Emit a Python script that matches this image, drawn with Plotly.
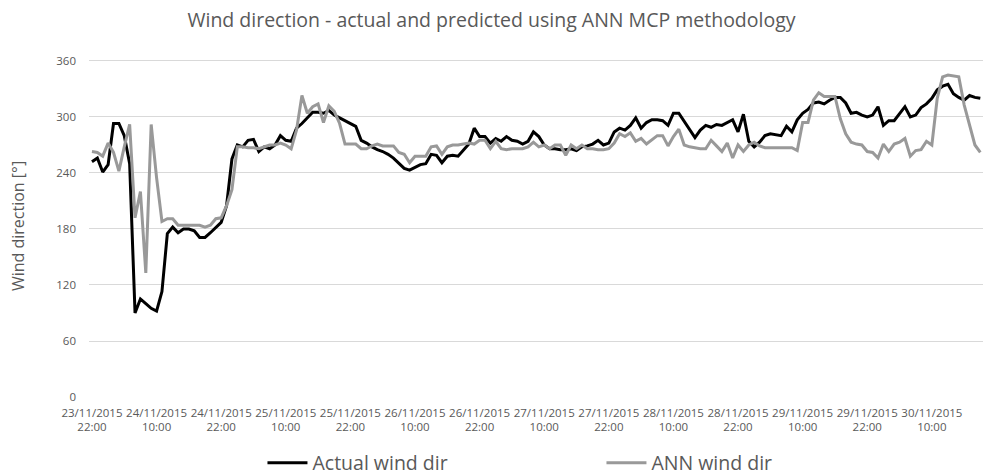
import plotly.graph_objects as go
import pandas as pd

# ---- data (hourly, starting 23/11/2015 22:00) ----
actual_wind_dir = [
    252, 256, 241, 249, 293, 293, 280, 250, 90, 105,
    100, 95, 92, 113, 175, 182, 176, 180, 180, 178,
    171, 171, 176, 182, 187, 205, 255, 270, 268, 275,
    276, 263, 268, 266, 270, 280, 275, 274, 288, 293,
    299, 305, 305, 304, 307, 302, 299, 296, 293, 290,
    275, 272, 268, 265, 263, 260, 256, 250, 245, 243,
    246, 249, 250, 260, 259, 251, 258, 259, 258, 265,
    271, 288, 279, 279, 272, 277, 274, 279, 275, 274,
    271, 274, 284, 279, 270, 266, 266, 265, 265, 266,
    264, 268, 269, 271, 275, 270, 272, 284, 288, 286,
    291, 299, 288, 294, 297, 297, 296, 291, 304, 304,
    295, 286, 278, 286, 291, 289, 292, 291, 294, 297,
    284, 303, 274, 268, 273, 280, 282, 281, 280, 290,
    284, 297, 304, 308, 315, 316, 314, 318, 321, 321,
    315, 304, 305, 302, 300, 302, 311, 291, 296, 296,
    304, 311, 300, 302, 310, 314, 320, 329, 333, 335,
    325, 321, 318, 323, 321, 320,
]
ann_wind_dir = [
    263, 262, 258, 272, 262, 242, 268, 292, 192, 220,
    133, 292, 235, 188, 191, 191, 184, 184, 184, 184,
    184, 182, 184, 191, 192, 205, 222, 268, 268, 267,
    267, 266, 268, 270, 270, 272, 270, 266, 286, 323,
    304, 311, 314, 294, 312, 306, 293, 271, 271, 271,
    266, 266, 269, 271, 269, 269, 269, 262, 260, 251,
    258, 258, 258, 268, 269, 260, 268, 270, 270, 271,
    272, 271, 275, 275, 266, 274, 266, 265, 266, 266,
    266, 268, 273, 268, 270, 266, 270, 270, 259, 270,
    266, 270, 266, 266, 265, 265, 266, 272, 282, 279,
    283, 274, 277, 271, 276, 280, 280, 269, 279, 287,
    270, 268, 267, 266, 266, 275, 269, 263, 272, 256,
    270, 263, 270, 273, 269, 267, 267, 267, 267, 267,
    267, 264, 294, 294, 318, 326, 322, 322, 322, 298,
    282, 273, 271, 270, 263, 262, 256, 271, 263, 271,
    273, 277, 258, 264, 265, 274, 270, 320, 343, 345,
    344, 343, 313, 291, 270, 262,
]
tick_labels = [
    "23/11/2015<br>22:00", "24/11/2015<br>10:00", "24/11/2015<br>22:00",
    "25/11/2015<br>10:00", "25/11/2015<br>22:00", "26/11/2015<br>10:00",
    "26/11/2015<br>22:00", "27/11/2015<br>10:00", "27/11/2015<br>22:00",
    "28/11/2015<br>10:00", "28/11/2015<br>22:00", "29/11/2015<br>10:00",
    "29/11/2015<br>22:00", "30/11/2015<br>10:00",
]
y_ticks = [0, 60, 120, 180, 240, 300, 360]

times = pd.date_range("2015-11-23 22:00", periods=len(actual_wind_dir), freq="h")
x = list(range(len(times)))
tick_positions = list(range(0, 12 * len(tick_labels), 12))

FONT = "Open Sans"
TXT = "#595959"

fig = go.Figure()
fig.add_trace(go.Scatter(
    x=x, y=actual_wind_dir, mode="lines", name="Actual wind dir",
    line=dict(color="#000000", width=3),
    customdata=[t.strftime("%d/%m/%Y %H:%M") for t in times],
))
fig.add_trace(go.Scatter(
    x=x, y=ann_wind_dir, mode="lines", name="ANN wind dir",
    line=dict(color="#999999", width=3),
    customdata=[t.strftime("%d/%m/%Y %H:%M") for t in times],
))

fig.update_layout(
    width=983, height=476,
    margin=dict(l=89, r=0, t=55, b=79, autoexpand=False),
    paper_bgcolor="white", plot_bgcolor="white",
    font=dict(family=FONT, color=TXT),
    title=dict(
        text="Wind direction - actual and predicted using ANN MCP methodology",
        x=0.5, xref="container", xanchor="center",
        y=0.958, yref="container", yanchor="middle",
        font=dict(family=FONT, size=19.5, color=TXT),
    ),
    showlegend=True,
    legend=dict(
        orientation="h", xref="container", yref="container",
        x=0.267, xanchor="left", y=0.027, yanchor="middle",
        font=dict(family=FONT, size=19.5, color=TXT),
        entrywidth=284, entrywidthmode="pixels",
        itemwidth=40, bgcolor="rgba(0,0,0,0)",
    ),
)
fig.update_xaxes(
    range=[-0.55, 165.5],
    tickmode="array", tickvals=tick_positions, ticktext=tick_labels,
    tickangle=0, tickfont=dict(family=FONT, size=11.5, color=TXT),
    showgrid=False, zeroline=False, showline=False, ticks="",
    ticklabelstandoff=7,
)
fig.update_yaxes(
    range=[0, 366.4],
    tickmode="array", tickvals=y_ticks,
    tickfont=dict(family=FONT, size=11.5, color=TXT),
    showgrid=True, gridcolor="#d9d9d9", gridwidth=1,
    zeroline=False, showline=False, ticks="", ticklabelstandoff=12,
    title=dict(text="Wind direction [°]", font=dict(family=FONT, size=16, color=TXT), standoff=27),
)

fig.write_html(
    "out.html",
    config={"displayModeBar": False},
    post_script="document.body.style.margin='0px';",
)
